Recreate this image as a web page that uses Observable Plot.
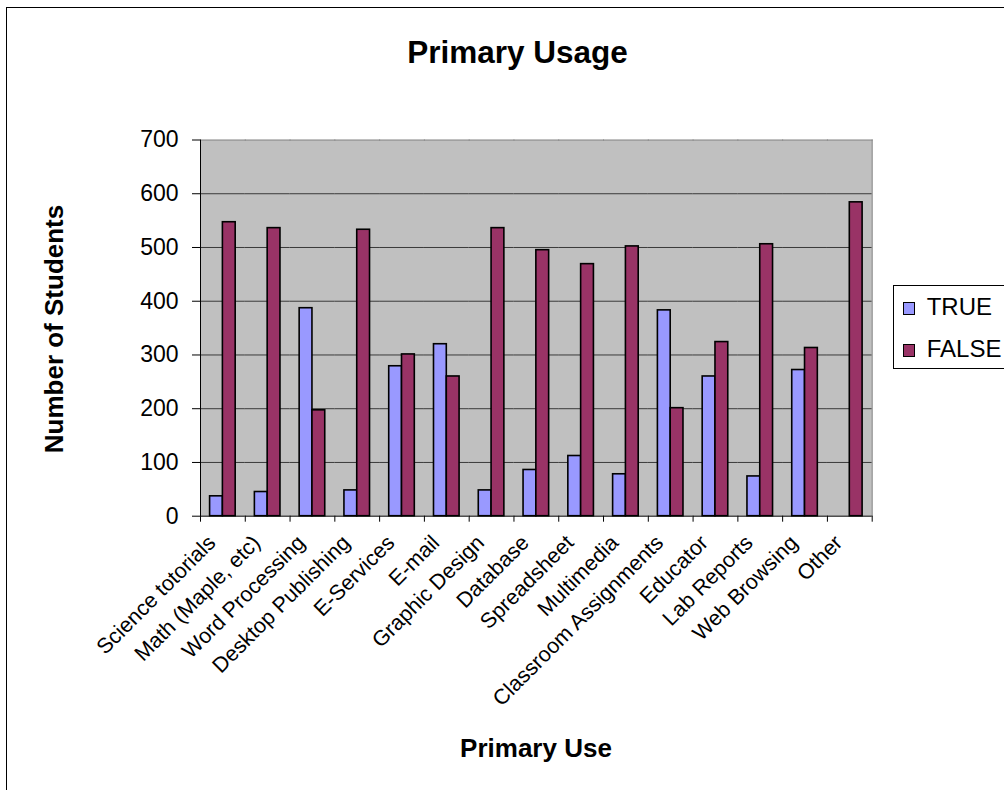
<!DOCTYPE html>
<html>
<head>
<meta charset="utf-8">
<script src="https://cdn.jsdelivr.net/npm/d3@7"></script>
<script src="https://cdn.jsdelivr.net/npm/@observablehq/plot@0.6"></script>
<style>
  html, body { margin: 0; padding: 0; background: #fff; overflow: hidden; }
  #wrap { position: relative; width: 1004px; height: 790px; overflow: hidden;
          font-family: "Liberation Sans", Arial, sans-serif; color: #000; }
  #frameBorder { position: absolute; left: 6px; top: 7px; width: 1300px; height: 1100px;
                 border: 1px solid #000; box-sizing: border-box; }
  #chart { position: absolute; left: 0; top: 0; }
  .title { position: absolute; font-weight: bold; white-space: nowrap; text-align: center; }
  #title { left: 0; width: 1035px; top: 36.6px; font-size: 31.5px; line-height: 31.5px; }
  #xtitle { left: 0; width: 1072px; top: 734.7px; font-size: 26px; line-height: 26px; }
  #ytitle { left: 54px; top: 329px; font-size: 26px; line-height: 26px;
            transform: translate(-50%, -50%) rotate(-90deg); }
  #legend { position: absolute; left: 893px; top: 285px; width: 200px; height: 84px;
            border: 1px solid #000; box-sizing: border-box; background: #fff; }
  .sw { position: absolute; left: 9px; width: 12px; height: 13px; border: 1px solid #000; box-sizing: border-box; }
  .lt { position: absolute; left: 32.7px; font-size: 24px; line-height: 24px; white-space: nowrap; }
</style>
</head>
<body>
<div id="wrap">
  <div id="frameBorder"></div>
  <div id="chart"></div>
  <div id="title" class="title">Primary Usage</div>
  <div id="xtitle" class="title">Primary Use</div>
  <div id="ytitle" class="title">Number of Students</div>
  <div id="legend"></div>
</div>
<script>
const categories = ["Science totorials", "Math (Maple, etc)", "Word Processing", "Desktop Publishing",
  "E-Services", "E-mail", "Graphic Design", "Database", "Spreadsheet", "Multimedia",
  "Classroom Assignments", "Educator", "Lab Reports", "Web Browsing", "Other"];
const trueValues  = [37, 45, 387, 48, 279, 320, 48, 86, 112, 78, 383, 260, 74, 272, 0];
const falseValues = [547, 536, 197, 533, 301, 260, 536, 495, 469, 502, 201, 324, 506, 313, 584];
const series = ["TRUE", "FALSE"];
const seriesColors = ["#9999ff", "#993366"];
const yTicks = [0, 100, 200, 300, 400, 500, 600, 700];

const rows = categories.flatMap((c, i) => [
  {cat: c, series: series[0], value: trueValues[i]},
  {cat: c, series: series[1], value: falseValues[i]}
]);
const gridTicks = yTicks.filter(v => v > yTicks[0] && v < yTicks[yTicks.length - 1]);

const W = 1004, H = 790, mL = 200, mR = 132.3, mT = 139.5, mB = 274.3;
const step = (W - mL - mR) / categories.length;

const chart = Plot.plot({
  width: W, height: H,
  marginLeft: mL, marginRight: mR, marginTop: mT, marginBottom: mB,
  style: {fontFamily: "Liberation Sans, Arial, sans-serif", color: "#000", background: "transparent", overflow: "visible"},
  fx: {domain: categories, padding: 0, round: false, label: null},
  x: {domain: series, paddingInner: 0, paddingOuter: 0.75, round: false, axis: null},
  y: {domain: [yTicks[0], yTicks[yTicks.length - 1]], label: null},
  color: {domain: series, range: seriesColors},
  marks: [
    Plot.frame({fill: "#c0c0c0", shapeRendering: "crispEdges"}),
    Plot.gridY(gridTicks, {stroke: "#3a3a3a", strokeOpacity: 1}),
    Plot.frame({anchor: "top", stroke: "#808080"}),
    Plot.frame({anchor: "right", stroke: "#808080", facetAnchor: "right"}),
    Plot.barY(rows, {fx: "cat", x: "series", y: "value", fill: "series", stroke: "#000", strokeWidth: 1.6}),
    Plot.ruleY([0], {stroke: "#000"}),
    Plot.frame({anchor: "left", stroke: "#000", facetAnchor: "left"}),
    Plot.axisY({ticks: yTicks, tickSize: 8, tickPadding: 14, fontSize: 23, label: null}),
    Plot.axisFx({anchor: "bottom", tickSize: 6, tickFormat: () => "", dx: -step / 2, label: null}),
    Plot.axisFx({anchor: "bottom", ticks: [categories[categories.length - 1]], tickSize: 6, tickFormat: () => "", dx: step / 2, label: null}),
    Plot.axisFx({anchor: "bottom", tickSize: 0, tickPadding: 23, dx: -11, tickRotate: -45, fontSize: 21.5, label: null})
  ]
});
document.getElementById("chart").appendChild(chart);

const legend = document.getElementById("legend");
const swTops = [16, 58], txtTops = [8.7, 51];
series.forEach((s, i) => {
  const sw = document.createElement("div");
  sw.className = "sw";
  sw.style.top = swTops[i] + "px";
  sw.style.background = seriesColors[i];
  legend.appendChild(sw);
  const t = document.createElement("div");
  t.className = "lt";
  t.style.top = txtTops[i] + "px";
  t.textContent = s;
  legend.appendChild(t);
});
</script>
</body>
</html>
